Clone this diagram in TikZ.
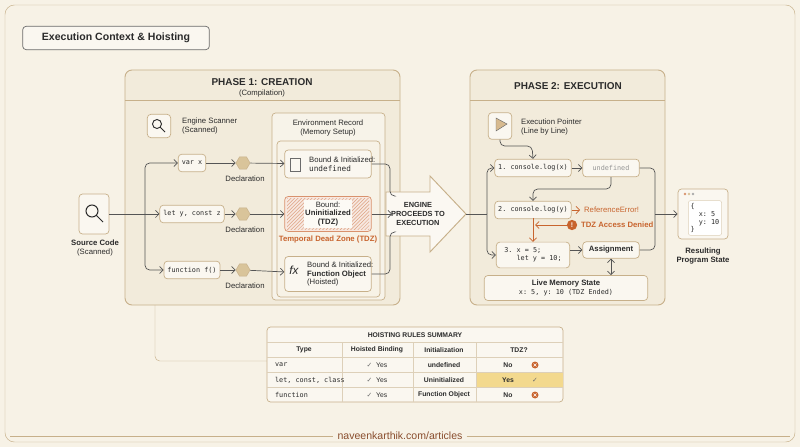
\documentclass[tikz,border=0pt]{standalone}
\usepackage{fontspec}
\setmainfont{Liberation Sans}
\setmonofont{DejaVu Sans Mono}
\newfontfamily\symf{DejaVu Sans}
\usetikzlibrary{shapes.geometric,patterns,arrows.meta,positioning}

\definecolor{bgcream}{HTML}{F7F2E6}
\definecolor{panel}{HTML}{F2EBDB}
\definecolor{edge}{HTML}{C7B08A}
\definecolor{ink}{HTML}{2B2B2B}
\definecolor{rust}{HTML}{C8642E}
\definecolor{hexc}{HTML}{D9C49A}
\definecolor{yesbg}{HTML}{F3D98E}

\newcommand{\sm}{\fontsize{6.6}{7.6}\selectfont}
\newcommand{\tn}{\fontsize{5.8}{6.8}\selectfont}

\tikzstyle{panelbox} = [draw=edge, fill=panel, rounded corners=6pt, line width=0.8pt]
\tikzstyle{card} = [draw=edge, fill=bgcream!60!white, rounded corners=3pt, line width=0.6pt]
\tikzstyle{code} = [card, font=\ttfamily\tn, text=ink, inner sep=3pt, minimum height=15pt]
\tikzstyle{lbl} = [font=\sm, text=ink, align=center]
\tikzstyle{hexa} = [regular polygon, regular polygon sides=6, draw=edge, fill=hexc, minimum size=12pt, inner sep=0pt]
\tikzstyle{arrow} = [draw=ink!80, line width=0.6pt, -{Straight Barb[length=3pt]}, rounded corners=4pt]
\tikzstyle{rarrow} = [arrow, draw=rust]

\begin{document}
\begin{tikzpicture}[x=0.3mm, y=-0.3mm]
\useasboundingbox (0,0) rectangle (800,447);
\fill[bgcream] (0,0) rectangle (800,447);
\draw[edge, rounded corners=8pt] (5,5) rectangle (795,442);

% title
\node[card, draw=ink!70, minimum width=56mm, minimum height=7mm, font=\fontsize{9}{10}\selectfont\bfseries, text=ink] (title) at (116,38) {Execution Context \& Hoisting};

% phase 1
\draw[panelbox] (125,70) rectangle (400,305);
\draw[edge] (125,100) -- (400,100);
\node[font=\fontsize{8.5}{9}\selectfont\bfseries, text=ink] (ph1) at (262,82) {PHASE 1: CREATION};
\node[lbl] at (262,94) {(Compilation)};
\node[card, minimum width=7mm, minimum height=7mm] (scan) at (159,126) {};
\draw[ink, line width=0.8pt] (157,124) circle (4.5) (160,127) -- (165,132);
\node[lbl, align=left, anchor=west] at (178,126) {Engine Scanner\\(Scanned)};

\draw[card, fill=panel!60!white] (272,113) rectangle (385,300);
\node[lbl] at (328,128) {Environment Record\\(Memory Setup)};
\draw[card, fill=bgcream] (277,141) rectangle (380,297);

% source
\node[card, minimum width=9mm, minimum height=12mm] (src) at (94,214) {};
\draw[ink, line width=0.9pt] (92,211) circle (6) (96,215) -- (103,222);
\node[lbl] (srcl) at (95,248) {\textbf{Source Code}\\(Scanned)};

\node[code] (cx) at (192,163) {var x};
\node[code] (cy) at (192,214) {let y, const z};
\node[code] (cf) at (192,270) {function f()};
\foreach \n/\y in {hx/163,hy/214,hf/270} {
  \node[hexa] (\n) at (243,\y) {};
  \node[lbl] at (245,\y+16) {Declaration};
}

\node[card, minimum width=26mm, minimum height=8.4mm] (rx) at (328,164) {};
\node[lbl, align=left, anchor=west] at (305,164) {Bound \& Initialized:\\\ttfamily undefined};
\draw[ink!70] (290,158) rectangle (300,171);
\node[card, draw=rust!70, fill=rust!15, minimum width=26mm, minimum height=10.5mm] (ry) at (328,214) {};
\fill[pattern=north east lines, pattern color=rust!60] (287,199) rectangle (369,230);
\node[lbl, fill=bgcream!40, inner sep=1pt] at (328,214) {Bound:\\\textbf{Uninitialized}\\\textbf{(TDZ)}};
\node[lbl, text=rust, font=\sm\bfseries] at (328,240) {Temporal Dead Zone (TDZ)};
\node[card, minimum width=26mm, minimum height=10.5mm] (rf) at (328,274) {};
\node[font=\itshape\fontsize{10}{10}\selectfont, text=ink] at (294,270) {fx};
\node[lbl, align=left, anchor=west] at (303,274) {Bound \& Initialized:\\\textbf{Function Object}\\(Hoisted)};

\coordinate (split1) at (145,214);
\draw[draw=ink!80, line width=0.6pt] (src) -- (split1);
\draw[arrow] (split1) |- (cx);
\draw[arrow] (split1) -- (cy);
\draw[arrow] (split1) |- (cf);
\foreach \a/\b/\c in {cx/hx/rx,cy/hy/ry,cf/hf/rf} {
  \draw[arrow] (\a) -- (\b);
  \draw[arrow] (\b) -- (\c);
}

% big arrow
\draw[edge, fill=bgcream!50!white, line width=0.8pt] (386,192) -- (430,192) -- (430,176) -- (466,214) -- (430,252) -- (430,236) -- (386,236) -- cycle;
\node[font=\fontsize{6.3}{7.3}\selectfont\bfseries, text=ink, align=center] (eng) at (418,214) {ENGINE\\PROCEEDS TO\\EXECUTION};
\coordinate (tip) at (466,214);
\draw[draw=ink!80, line width=0.6pt, rounded corners=4pt] (rx.east) -| (390,196) -- (394,196);
\draw[arrow] (ry) -- (392,214);
\draw[draw=ink!80, line width=0.6pt, rounded corners=4pt] (rf.east) -| (390,232) -- (394,232);

% phase 2
\draw[panelbox] (470,70) rectangle (665,305);
\draw[edge] (470,100) -- (665,100);
\node[font=\fontsize{8.5}{9}\selectfont\bfseries, text=ink] (ph2) at (568,86) {PHASE 2: EXECUTION};
\node[card, minimum width=7mm, minimum height=8mm] (ptr) at (500,126) {};
\fill[hexc!90!rust, draw=ink!70] (496,118) -- (507,124) -- (496,131) -- cycle;
\node[lbl, align=left, anchor=west] at (517,127) {Execution Pointer\\(Line by Line)};

\node[code, minimum width=22mm] (s1) at (533,168) {1. console.log(x)};
\node[code, text=ink!50, minimum width=17mm] (und) at (611,168) {undefined};
\node[code, minimum width=22mm] (s2) at (533,210) {2. console.log(y)};
\node[lbl, text=rust, anchor=west] (err) at (580,210) {ReferenceError!};
\node[code, minimum width=22mm, minimum height=22pt, align=left] (s3) at (533,255) {3. x = 5;\\\ \ \ let y = 10;};
\node[card, minimum width=17mm, minimum height=14pt, font=\sm\bfseries, text=ink] (asg) at (611,250) {Assignment};
\node[card, minimum width=49mm, minimum height=7.5mm, align=center, font=\sm, text=ink] (mem) at (566,288) {\textbf{Live Memory State}\\\ttfamily\tn x: 5, y: 10 (TDZ Ended)};
\node[circle, fill=rust, inner sep=1.6pt, text=white, font=\tn\bfseries] (warn) at (572,225) {!};
\node[lbl, text=rust, font=\sm\bfseries, anchor=west] (tdz) at (577,225) {TDZ Access Denied};

\coordinate (split2) at (487,214);
\draw[draw=ink!80, line width=0.6pt] (tip) -- (split2);
\draw[arrow] (split2) |- (s1);
\draw[arrow] (split2) |- (s3.west);
\draw[arrow] (ptr.south) |- (532,146) -- (s1.north);
\draw[arrow] (s1) -- (und);
\draw[arrow] (und.south) |- (533,189) -- (s2.north);
\draw[rarrow] (s2) -- (err);
\draw[rarrow] (533,218) -- (s3.north);
\draw[rarrow] (warn) -- (535,225);
\draw[arrow] (s3.east |- asg) -- (asg);
\draw[draw=ink!80, line width=0.6pt, {Straight Barb[length=3pt]}-{Straight Barb[length=3pt]}] (asg) -- (mem.north -| asg);

% result
\coordinate (join) at (655,214);
\draw[draw=ink!80, line width=0.6pt, rounded corners=4pt] (und.east) -| (join) |- (asg.east);
\node[card, minimum width=15mm, minimum height=15mm] (res) at (703,214) {};
\foreach \i/\c in {0/rust!70,1/hexc,2/ink!40} \fill[\c] (685+\i*4,194) circle (1.3);
\node[font=\ttfamily\tn, align=left, text=ink, fill=white, draw=edge!60, rounded corners=2pt, inner sep=2pt] at (705,218) {\{\\\ \ x: 5\\\ \ y: 10\\\}};
\draw[arrow] (join) -- (res);
\node[lbl, font=\sm\bfseries] at (703,256) {Resulting\\Program State};

% summary table
\draw[edge, rounded corners=4pt] (155,305) |- (267,361);
\draw[card, fill=bgcream!60!white] (267,327) rectangle (563,402);
\fill[yesbg] (476,372) rectangle (563,387);
\foreach \y in {342,357,372,387} \draw[edge!60] (267,\y) -- (563,\y);
\foreach \x in {342,413,476} \draw[edge!60] (\x,342) -- (\x,402);
\node[font=\tn\bfseries, text=ink] (tab) at (415,335) {HOISTING RULES SUMMARY};
\node[font=\tn\bfseries, text=ink] at (304,350) {Type};
\node[font=\tn\bfseries, text=ink] at (377,350) {Hoisted Binding};
\node[font=\tn\bfseries, text=ink] at (444,350) {Initialization};
\node[font=\tn\bfseries, text=ink] at (519,350) {TDZ?};
\foreach \y/\t/\i/\z in {365/var/undefined/No,380/{let, const, class}/Uninitialized/Yes,395/function/Function Object/No} {
  \node[font=\ttfamily\tn, text=ink, anchor=west] at (271,\y) {\t};
  \node[font=\tn, text=ink] at (377,\y) {{\symf\color{ink!70}✓}\ \ Yes};
  \node[font=\tn\bfseries, text=ink] at (444,\y) {\i};
  \node[font=\tn\bfseries, text=ink] at (508,\y) {\z};
}
\foreach \y in {365,395} {
  \fill[rust] (535,\y) circle (3.5);
  \draw[white, line width=0.5pt] (533.5,\y-1.5) -- (536.5,\y+1.5) (533.5,\y+1.5) -- (536.5,\y-1.5);
}
\node[font=\symf\tn, text=ink!70] at (535,380) {✓};

% footer
\node[font=\fontsize{9}{10}\selectfont, text=rust!60!ink] (foot) at (400,436) {naveenkarthik.com/articles};
\draw[edge, line width=0.8pt] (10,436) -- (foot.west) (foot.east) -- (790,436);
\end{tikzpicture}
\end{document}
